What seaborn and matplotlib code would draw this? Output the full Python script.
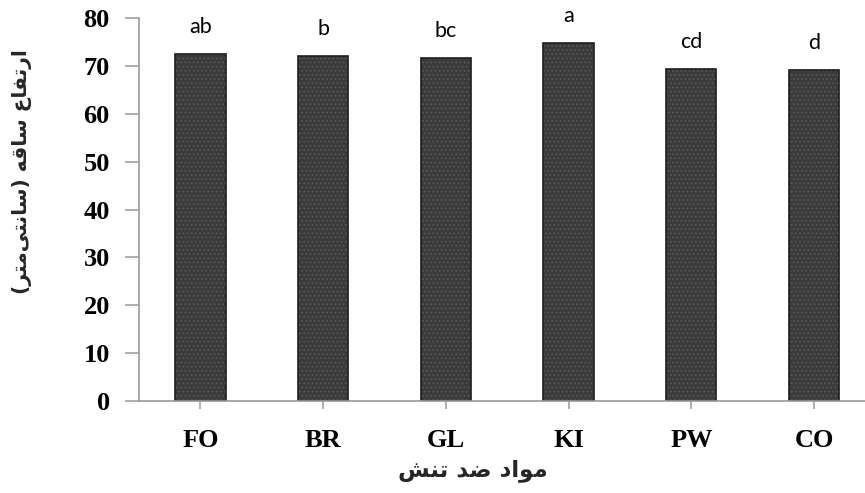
import matplotlib
matplotlib.use("Agg")
import matplotlib.pyplot as plt
import seaborn as sns
import pandas as pd

# Treatments, mean stem height (cm) and significance groups
treatments = ["FO", "BR", "GL", "KI", "PW", "CO"]
stem_height = [72.5, 72.1, 71.7, 74.9, 69.4, 69.1]
groups = ["ab", "b", "bc", "a", "cd", "d"]

# Persian axis titles, written as joined Arabic presentation forms in visual order
x_title = "\uFEB6\uFEE8\uFE97 \uFEAA\uFEBF \uFEA9\uFE8D\uFEEE\uFEE3"          # مواد ضد تنش
y_title = ("(\uFEAE\uFE98\uFEE3\uFEF0\uFE98\uFEE7\uFE8E\uFEB3) "
           "\uFEEA\uFED7\uFE8E\uFEB3 "
           "\uFEC9\uFE8E\uFED4\uFE97\uFEAD\uFE8D")                          # ارتفاع ساقه (سانتی‌متر)

df = pd.DataFrame({"treatment": treatments, "height": stem_height})

sns.set_theme(style="white")
plt.rcParams["hatch.linewidth"] = 0.6

fig = plt.figure(figsize=(8.65, 4.93), dpi=100)
ax = fig.add_axes([139 / 865, 1 - 401 / 493, 1 - 139 / 865, (401 - 18.3) / 493])

# dotted fill
sns.barplot(data=df, x="treatment", y="height", order=treatments, ax=ax,
            color="#3b3b3b", width=0.41, saturation=1, linewidth=0,
            edgecolor="#5c5c5c", hatch="....", errorbar=None)
# dark outline
sns.barplot(data=df, x="treatment", y="height", order=treatments, ax=ax,
            fill=False, width=0.41, linewidth=1.2, edgecolor="#1e1e1e",
            errorbar=None)

ax.set_ylim(0, 80)
ax.set_xlim(-0.5, 5.415)
ax.set_yticks(range(0, 81, 10))
ax.set_xlabel("")
ax.set_ylabel("")

for s in ["top", "right"]:
    ax.spines[s].set_visible(False)
for s in ["left", "bottom"]:
    ax.spines[s].set_color("#9a9a9a")
    ax.spines[s].set_linewidth(1.2)

ax.tick_params(axis="y", direction="out", length=10, width=1.1, color="#9a9a9a",
               pad=11, left=True)
ax.tick_params(axis="x", direction="out", length=6, width=1.1, color="#9a9a9a",
               pad=14, bottom=True)
for lab in ax.get_yticklabels() + ax.get_xticklabels():
    lab.set_fontfamily("Liberation Serif")
    lab.set_fontweight("bold")
    lab.set_fontsize(19)
    lab.set_color("black")

# significance letters above bars
for i, (h, g) in enumerate(zip(stem_height, groups)):
    ax.annotate(g, (i, h), xytext=(0, 19.5), textcoords="offset points",
                ha="center", va="center", fontsize=15.5, family="Lato",
                color="black")

fig.text(473 / 865, 1 - 470 / 493, x_title, ha="center", va="center",
         fontsize=16.5, fontweight="bold", family="DejaVu Sans")
fig.text(22 / 865, 1 - 172 / 493, y_title, ha="center", va="center",
         rotation=90, fontsize=14.5, fontweight="bold", family="DejaVu Sans")

fig.savefig("out.png", dpi=100)
